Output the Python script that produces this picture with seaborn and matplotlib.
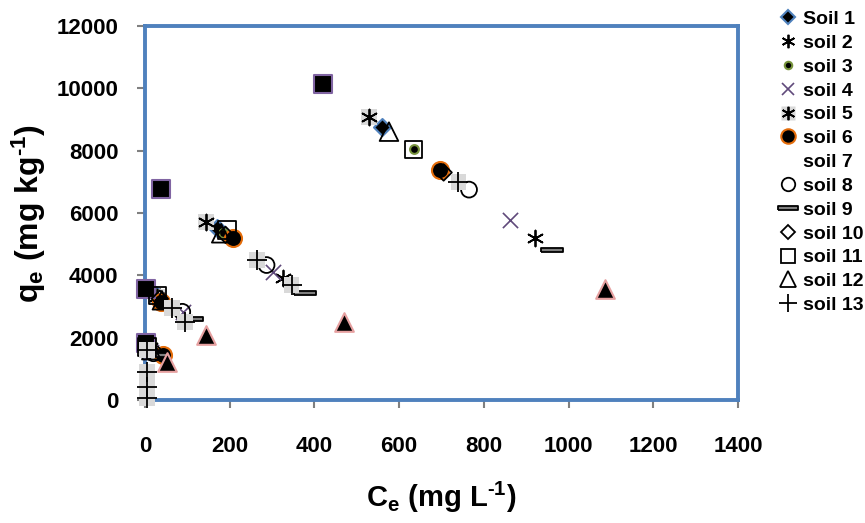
import matplotlib
matplotlib.use("Agg")
import matplotlib.pyplot as plt
from matplotlib.lines import Line2D
from matplotlib.legend_handler import HandlerTuple
import seaborn as sns

# equilibrium concentration Ce (mg/L) and sorbed amount qe (mg/kg)
soil1_ce = [560, 171, 25, 8]
soil1_qe = [8770, 5510, 3380, 1650]
soil2_ce = [920, 326, 20, 12]
soil2_qe = [5200, 3910, 3420, 1700]
soil3_ce = [634, 185, 32, 10]
soil3_qe = [8040, 5360, 3330, 1600]
soil4_ce = [862, 302, 90, 15]
soil4_qe = [5775, 4120, 2830, 1550]
soil5_ce = [529, 144, 28, 5]
soil5_qe = [9090, 5720, 3300, 1750]
soil6_ce = [696, 208, 39, 43]
soil6_qe = [7380, 5200, 3150, 1440]
soil7_ce = [421, 39, 3, 3]
soil7_qe = [10140, 6760, 3560, 1820]
soil8_ce = [765, 287, 88, 20]
soil8_qe = [6750, 4330, 2830, 1500]
soil9_ce = [960, 378, 110, 30]
soil9_qe = [4820, 3420, 2590, 1450]
soil10_ce = [705, 190, 35, 12]
soil10_qe = [7300, 5300, 3250, 1600]
soil11_ce = [634, 193, 30, 5]
soil11_qe = [8040, 5450, 3350, 1700]
soil12_ce = [576, 180, 40, 15]
soil12_qe = [8610, 5350, 3200, 1600]
soil13_ce = [740, 264, 346, 63, 94, 5, 5, 5, 5]
soil13_qe = [7000, 4490, 3690, 2940, 2510, 1600, 910, 430, 60]
# filled triangles (highest Ce of each series of points), not in the legend
extra_ce = [1085, 470, 144, 51]
extra_qe = [3550, 2500, 2085, 1230]

labels = ["Soil 1", "soil 2", "soil 3", "soil 4", "soil 5", "soil 6", "soil 7",
          "soil 8", "soil 9", "soil 10", "soil 11", "soil 12", "soil 13"]

blue = "#4F81BD"
asterisk = (6, 2, 0)
dash = [(-1, -0.22), (1, -0.22), (1, 0.22), (-1, 0.22), (-1, -0.22)]

styles = [
    dict(marker="D", s=75, color="black", edgecolor=blue, linewidth=1.5),
    dict(marker=asterisk, s=130, color="black", linewidth=1.3),
    dict(marker="o", s=40, color="black", edgecolor="#77933C", linewidth=1.5),
    dict(marker="x", s=120, color="#604A7B", linewidth=1.2),
    dict(marker=asterisk, s=130, color="black", linewidth=1.3),
    dict(marker="o", s=150, color="black", edgecolor="#E46C0A", linewidth=1.5),
    dict(marker="s", s=160, color="black", edgecolor="#8064A2", linewidth=1.5),
    dict(marker="o", s=130, color="black", facecolor="none", edgecolor="black", linewidth=1.3),
    dict(marker=dash, s=250, color="#7F7F7F", edgecolor="black", linewidth=1.3),
    dict(marker="D", s=70, color="black", facecolor="none", edgecolor="black", linewidth=1.3),
    dict(marker="s", s=160, color="black", facecolor="none", edgecolor="black", linewidth=1.3),
    dict(marker="^", s=180, color="black", facecolor="none", edgecolor="black", linewidth=1.3),
    dict(marker="+", s=220, color="black", linewidth=1.3),
]

series = [
    (soil1_ce, soil1_qe), (soil2_ce, soil2_qe), (soil3_ce, soil3_qe),
    (soil4_ce, soil4_qe), (soil5_ce, soil5_qe), (soil6_ce, soil6_qe),
    (soil7_ce, soil7_qe), (soil8_ce, soil8_qe), (soil9_ce, soil9_qe),
    (soil10_ce, soil10_qe), (soil11_ce, soil11_qe), (soil12_ce, soil12_qe),
    (soil13_ce, soil13_qe),
]

sns.set_style("white")
plt.rcParams["font.family"] = ["Liberation Sans", "DejaVu Sans"]
plt.rcParams["font.weight"] = "bold"
plt.rcParams["text.color"] = "black"
plt.rcParams["axes.labelcolor"] = "black"
plt.rcParams["xtick.labelcolor"] = "black"
plt.rcParams["ytick.labelcolor"] = "black"
plt.rcParams["mathtext.fontset"] = "custom"
plt.rcParams["mathtext.rm"] = "Liberation Sans:bold"
plt.rcParams["mathtext.it"] = "Liberation Sans:bold"
plt.rcParams["mathtext.bf"] = "Liberation Sans:bold"
plt.rcParams["mathtext.default"] = "bf"

fig = plt.figure(figsize=(8.65, 5.23), dpi=100)
ax = fig.add_axes([0.1676, 0.2352, 0.6856, 0.7151])

gray_bg = dict(marker="s", s=130, color="#D9D9D9", edgecolor="none", linewidth=0)
for i, ((ce, qe), st) in enumerate(zip(series, styles)):
    if i in (4, 12):
        sns.scatterplot(x=ce, y=qe, ax=ax, legend=False, clip_on=False, zorder=3, **gray_bg)
    sns.scatterplot(x=ce, y=qe, ax=ax, legend=False, clip_on=False, zorder=3, **st)

sns.scatterplot(x=extra_ce, y=extra_qe, ax=ax, legend=False, clip_on=False, zorder=3,
                marker="^", s=180, color="black", edgecolor="#E6A0A0", linewidth=1.5)

ax.set_xlim(0, 1400)
ax.set_ylim(0, 12000)
ax.set_xticks(range(0, 1401, 200))
ax.set_yticks(range(0, 12001, 2000))
for sp in ax.spines.values():
    sp.set_color(blue)
    sp.set_linewidth(2.8)
ax.tick_params(axis="both", direction="out", length=6, width=1.5, color="#808080",
               labelcolor="black", labelsize=16, left=True, bottom=True)
ax.tick_params(axis="y", pad=13)
ax.tick_params(axis="x", pad=20)
for lab in ax.get_xticklabels() + ax.get_yticklabels():
    lab.set_fontweight("bold")

ax.set_xlabel(r"C$_e$ (mg L$^{\text{-1}}$)", fontsize=21, fontweight="bold",
              labelpad=16, color="black")
ax.set_ylabel(r"q$_e$ (mg kg$^{\text{-1}}$)", fontsize=23, fontweight="bold",
              labelpad=6, color="black")

# legend handles, built from the same styles
handles = []
for i, st in enumerate(styles):
    size = st["s"] ** 0.5 * 0.85
    if i == 8:
        size = 14
    kw = dict(marker=st["marker"], linestyle="none", markersize=size,
              markerfacecolor=st.get("facecolor", st["color"]),
              markeredgecolor=st.get("edgecolor", st["color"]),
              markeredgewidth=st["linewidth"])
    h = Line2D([], [], **kw)
    if i == 4:
        bg = Line2D([], [], marker="s", linestyle="none", markersize=10,
                    markerfacecolor="#D9D9D9", markeredgecolor="none")
        h = (bg, h)
    if i == 6:
        h = Line2D([], [], linestyle="none", marker="none")
    handles.append(h)

fig.legend(handles, labels, loc="upper left", bbox_to_anchor=(0.9, 0.98),
           frameon=False, prop={"weight": "bold", "size": 14}, labelcolor="black",
           handlelength=1.0, handletextpad=0.25, labelspacing=0.32,
           borderpad=0, borderaxespad=0,
           handler_map={tuple: HandlerTuple(ndivide=1, pad=0)})

fig.savefig("out.png", dpi=100)
